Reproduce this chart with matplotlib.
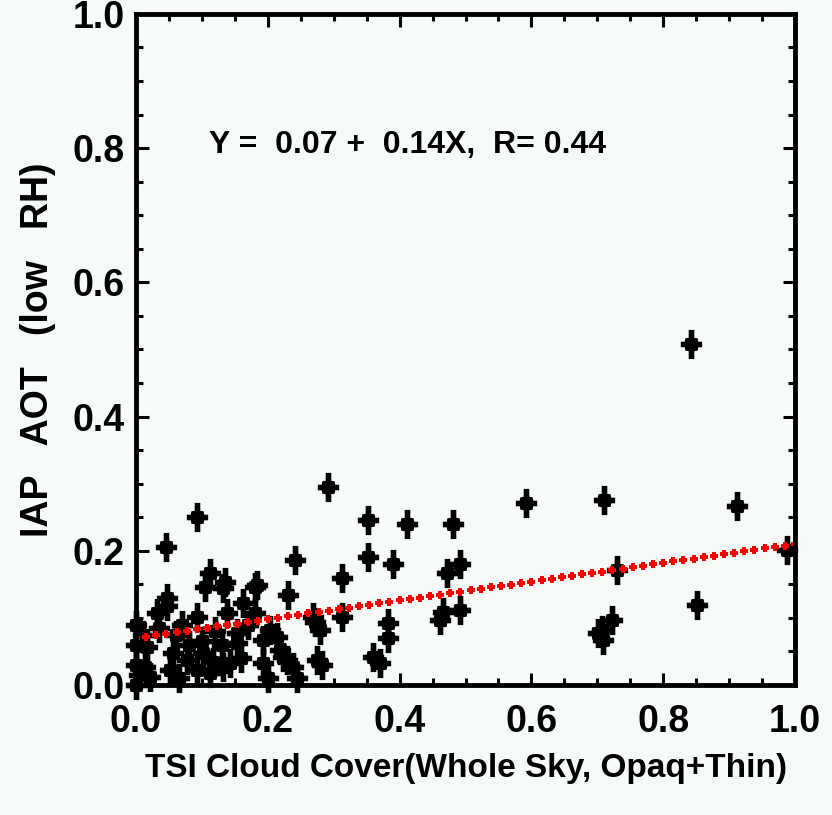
import numpy as np
import matplotlib.pyplot as plt
from matplotlib.path import Path
from matplotlib.ticker import MultipleLocator

# cloud cover (x) vs AOT at low RH (y)
cloud = [0.045, 0.093, 0.291, 0.352, 0.411, 0.481, 0.241, 0.313, 0.352, 0.390,
         0.472, 0.492, 0.231, 0.313, 0.279, 0.272, 0.382, 0.382, 0.461, 0.466,
         0.492, 0.282, 0.360, 0.370, 0.842, 0.592, 0.710, 0.912, 0.730, 0.851,
         0.707, 0.722, 0.701, 0.709, 0.988, 0.112, 0.105, 0.132, 0.181, 0.047,
         0.047, 0.093, 0.138, 0.162, 0.181, 0.032, 0.153, 0.203, 0.214, 0.056,
         0.077, 0.102, 0.117, 0.052, 0.093, 0.112, 0.193, 0.223, 0.238, 0.017,
         0.014, 0.021, 0.143, 0.184, 0.135, 0.153, 0.193, 0.218, 0.229, 0.132,
         0.275, 0.269, 0.000, 0.000, 0.000, 0.000, 0.005, 0.010, 0.070, 0.080,
         0.120, 0.060, 0.100, 0.170, 0.160, 0.130, 0.035, 0.065, 0.200, 0.245]
aot = [0.206, 0.250, 0.295, 0.246, 0.240, 0.240, 0.186, 0.159, 0.191, 0.180,
       0.167, 0.180, 0.134, 0.101, 0.082, 0.094, 0.092, 0.070, 0.097, 0.109,
       0.112, 0.030, 0.042, 0.033, 0.508, 0.271, 0.276, 0.266, 0.171, 0.119,
       0.082, 0.097, 0.077, 0.067, 0.201, 0.167, 0.146, 0.145, 0.146, 0.130,
       0.117, 0.101, 0.107, 0.122, 0.107, 0.107, 0.077, 0.082, 0.072, 0.048,
       0.037, 0.048, 0.034, 0.022, 0.022, 0.018, 0.033, 0.042, 0.027, 0.057,
       0.027, 0.012, 0.033, 0.149, 0.153, 0.063, 0.067, 0.052, 0.037, 0.027,
       0.037, 0.101, 0.000, 0.030, 0.060, 0.090, 0.015, 0.075, 0.090, 0.060,
       0.080, 0.075, 0.065, 0.090, 0.040, 0.060, 0.085, 0.010, 0.010, 0.010]

intercept = 0.07
slope = 0.14
r_value = 0.44

plt.rcParams['font.family'] = ['Liberation Sans', 'DejaVu Sans']
plt.rcParams['font.weight'] = 'bold'
plt.rcParams['axes.labelweight'] = 'bold'

# four-point star symbol
star = Path([(-2.5, 13), (2.5, 13), (2.5, 6), (5.5, 5.5), (6, 2.5), (9.5, 2.5),
             (9.5, -2.5), (6, -2.5), (5.5, -5.5), (2.5, -6), (2.5, -13), (-2.5, -13),
             (-2.5, -6), (-5.5, -5.5), (-6, -2.5), (-9.5, -2.5), (-9.5, 2.5), (-6, 2.5),
             (-5.5, 5.5), (-2.5, 6), (-2.5, 13)])
# stubby plus for the fit line
plus = Path([(-1.2, 3), (1.2, 3), (1.2, 1.2), (3, 1.2), (3, -1.2), (1.2, -1.2),
             (1.2, -3), (-1.2, -3), (-1.2, -1.2), (-3, -1.2), (-3, 1.2), (-1.2, 1.2),
             (-1.2, 3)])

bg = '#f7fbf8'
fig = plt.figure(figsize=(8.32, 8.15), dpi=100, facecolor=bg)
ax = fig.add_axes([0.1635, 0.1595, 0.792, 0.8235], facecolor=bg)

ax.plot(cloud, aot, linestyle='none', marker=star, markersize=21,
        color='black', markeredgewidth=0, clip_on=False)

fx = np.linspace(0, 1, 66)
ax.plot(fx, intercept + slope * fx, linestyle='none', marker=plus, markersize=6,
        color='red', markeredgewidth=0)

ax.set_xlim(0, 1)
ax.set_ylim(0, 1)
ax.xaxis.set_major_locator(MultipleLocator(0.2))
ax.yaxis.set_major_locator(MultipleLocator(0.2))
ax.xaxis.set_minor_locator(MultipleLocator(0.05))
ax.yaxis.set_minor_locator(MultipleLocator(0.05))
ax.xaxis.set_major_formatter(plt.FormatStrFormatter('%.1f'))
ax.yaxis.set_major_formatter(plt.FormatStrFormatter('%.1f'))
ax.tick_params(which='both', direction='in', top=True, right=True, width=2.2, color='black')
ax.tick_params(which='major', length=9, labelsize=27, pad=8)
ax.tick_params(axis='x', which='major', pad=14)
ax.tick_params(which='minor', length=5)
for s in ax.spines.values():
    s.set_linewidth(3.5)

ax.set_xlabel('TSI Cloud Cover(Whole Sky, Opaq+Thin)', fontsize=24, labelpad=9)
ax.set_ylabel('IAP   AOT   (low   RH)', fontsize=27, labelpad=12)

ax.text(0.11, 0.805, 'Y =  %.2f +  %.2fX,  R= %.2f' % (intercept, slope, r_value),
        fontsize=23, transform=ax.transAxes, va='center', ha='left')

plt.savefig('out.png', dpi=100, facecolor=bg)
